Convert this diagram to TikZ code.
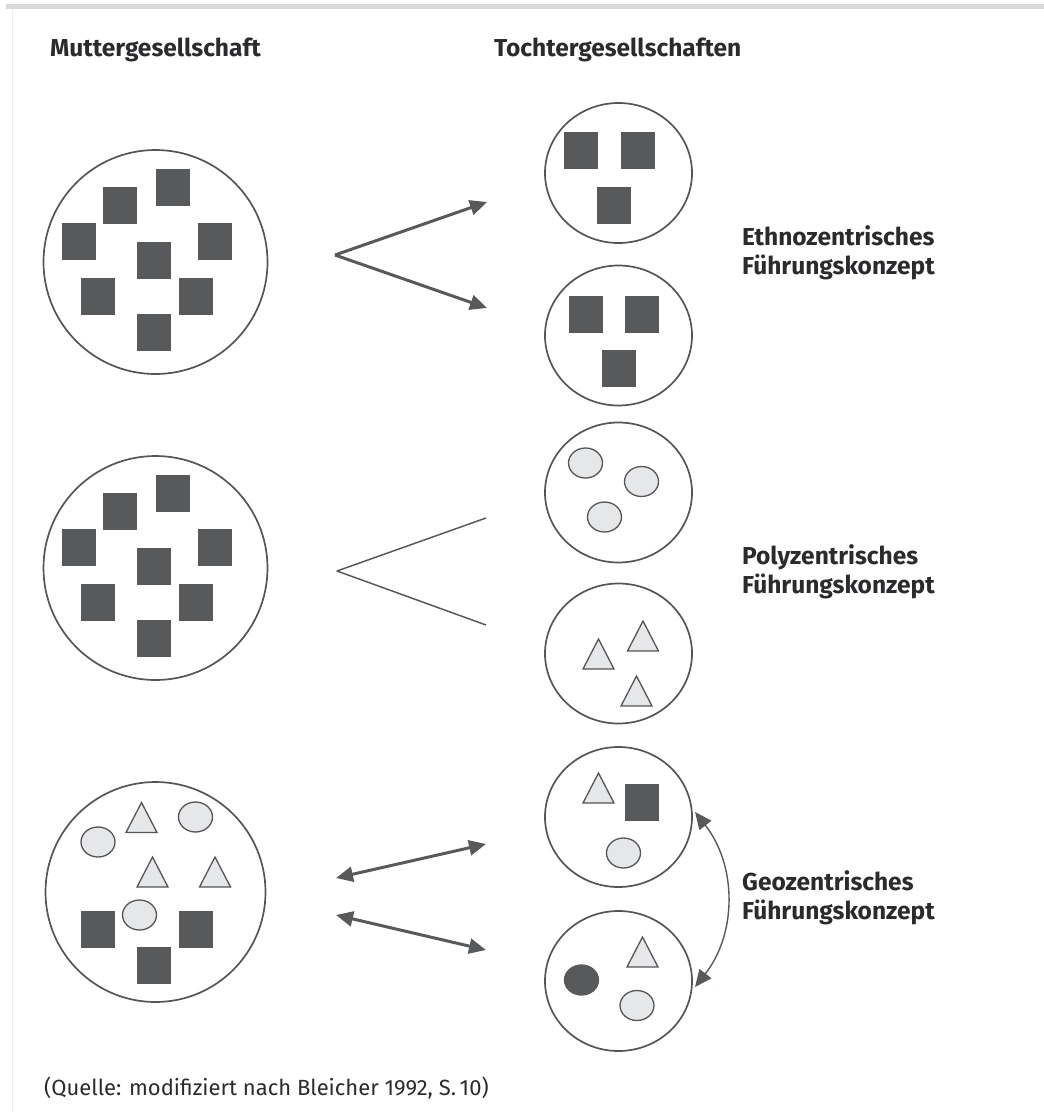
\documentclass[tikz,border=0pt]{standalone}
\usepackage{fontspec}
\setmainfont{Fira Sans}
\usetikzlibrary{arrows.meta,shapes.geometric,calc}

\definecolor{shapedark}{HTML}{58595B}
\definecolor{shapelight}{HTML}{E6E7E8}
\definecolor{ringgray}{HTML}{555557}
\definecolor{framegray}{HTML}{D9D9D9}
\definecolor{edgegray}{HTML}{ECECEC}
\definecolor{inkgray}{HTML}{2B2B2D}

\tikzset{
  bigtip/.tip={Triangle[length=17pt, width=15pt]},
  company/.style={circle, draw=ringgray, line width=1.7pt, minimum size=224pt, inner sep=0pt},
  subsidiary/.style={ellipse, draw=ringgray, line width=1.7pt, minimum width=147pt, minimum height=140pt, inner sep=0pt},
  sq/.style={rectangle, fill=shapedark, minimum width=34pt, minimum height=37pt, inner sep=0pt},
  ov/.style={ellipse, draw=ringgray, fill=shapelight, line width=1.3pt, minimum width=34pt, minimum height=30pt, inner sep=0pt},
  ovdark/.style={ov, fill=shapedark, draw=shapedark},
  tribody/.style={draw=ringgray, fill=shapelight, line width=1.3pt, line join=miter},
  tri/.pic={\draw[tribody] (-15.5,15) -- (0,-15) -- (15.5,15) -- cycle;},
  heading/.style={text=inkgray, font=\fontsize{24.5pt}{29pt}\selectfont\bfseries, inner sep=0pt, anchor=base west},
  concept/.style={text=inkgray, font=\fontsize{24.5pt}{29pt}\selectfont\bfseries, inner sep=0pt, anchor=west, align=left},
  source/.style={text=inkgray, font=\fontsize{22pt}{26pt}\selectfont, inner sep=0pt, anchor=base west},
  flow/.style={draw=shapedark, line width=3pt},
  split/.style={draw=shapedark, line width=1.5pt},
  swap/.style={draw=shapedark, line width=1.4pt, {bigtip}-{bigtip}}
}

\begin{document}
\begin{tikzpicture}[x=1pt, y=-1pt]
\useasboundingbox (0,0) rectangle (1044,1112);

% frame lines
\fill[framegray] (6,4) rectangle (1044,9);
\draw[edgegray, line width=1pt] (12,9) -- (12,1112);

% headings
\node[heading] (hmother) at (50,56) {Muttergesellschaft};
\node[heading] (hdaughter) at (494,56) {Tochtergesellschaften};

% parent companies
\node[company] (m1) at (155.5,262) {};
\node[company] (m2) at (155.5,568) {};
\node[company, minimum size=220pt] (m3) at (155.5,892) {};

% parent 1 and 2: eight squares each
\foreach \m in {m1,m2}{
  \foreach \dx/\dy [count=\k] in {-35.5/-56.5, 17/-74.5, -76.5/-20.5, 59/-20.5, -2/-1.5, -57.5/34.5, 40.5/34.5, -2/70}{
    \node[sq] (\m s\k) at ($(\m)+(\dx,\dy)$) {};
  }
}

% parent 3: mixed shapes
\node[ov] (m3o1) at (98,842) {};
\node[ov] (m3o2) at (195.5,817) {};
\node[ov] (m3o3) at (139.5,915) {};
\pic at (141.5,817.5) {tri};
\pic at (152.5,872) {tri};
\pic at (215,872) {tri};
\node[sq] (m3s1) at (98,929.5) {};
\node[sq] (m3s2) at (196,929.5) {};
\node[sq] (m3s3) at (153.5,965.5) {};

% subsidiaries
\node[subsidiary] (d1) at (618.5,173) {};
\node[subsidiary] (d2) at (618.5,335.5) {};
\node[subsidiary] (d3) at (618.5,492.5) {};
\node[subsidiary] (d4) at (618.5,653.5) {};
\node[subsidiary] (d5) at (618.5,817) {};
\node[subsidiary] (d6) at (618.5,981) {};

\node[sq] (d1s1) at (580.5,150.5) {};
\node[sq] (d1s2) at (637.5,150.5) {};
\node[sq] (d1s3) at (614,205.5) {};

\node[sq] (d2s1) at (586,314) {};
\node[sq] (d2s2) at (641.5,314) {};
\node[sq] (d2s3) at (618.5,368) {};

\node[ov] (d3o1) at (585.5,463) {};
\node[ov] (d3o2) at (641.5,481.5) {};
\node[ov] (d3o3) at (604.5,517) {};

\pic at (643,636) {tri};
\pic at (598.5,654) {tri};
\pic at (636.5,691) {tri};

\pic at (598.5,788) {tri};
\node[sq] (d5s1) at (641.5,802.5) {};
\node[ov] (d5o1) at (623.5,853) {};

\node[ovdark] (d6o1) at (581.5,980) {};
\pic at (642.5,952) {tri};
\node[ov] (d6o2) at (637,1005.5) {};

% connectors
\coordinate (e0) at (335,255);
\coordinate (e1) at (487,202);
\coordinate (e2) at (487,308);
\draw[flow, -{bigtip}] (e0) -- (e1);
\draw[flow, -{bigtip}] (e0) -- (e2);

\coordinate (p0) at (337,571);
\coordinate (p1) at (486,518);
\coordinate (p2) at (486,625);
\draw[split, line join=round] (p1) -- (p0) -- (p2);

\coordinate (g1a) at (336,878);
\coordinate (g1b) at (486,844);
\coordinate (g2a) at (336,915);
\coordinate (g2b) at (486,950);
\draw[flow, {bigtip}-{bigtip}] (g1a) -- (g1b);
\draw[flow, {bigtip}-{bigtip}] (g2a) -- (g2b);

\coordinate (x1) at (695,812);
\coordinate (x2) at (695,987);
\draw[swap] (x1) to[bend left=38] (x2);

% concept labels
\node[concept] (lethno) at (742,253) {Ethnozentrisches\\Führungskonzept};
\node[concept] (lpoly) at (742,572) {Polyzentrisches\\Führungskonzept};
\node[concept] (lgeo) at (742,898) {Geozentrisches\\Führungskonzept};

% source
\node[source] (src) at (44,1095) {(Quelle: modifiziert nach Bleicher 1992, S.\,10)};
\end{tikzpicture}
\end{document}
